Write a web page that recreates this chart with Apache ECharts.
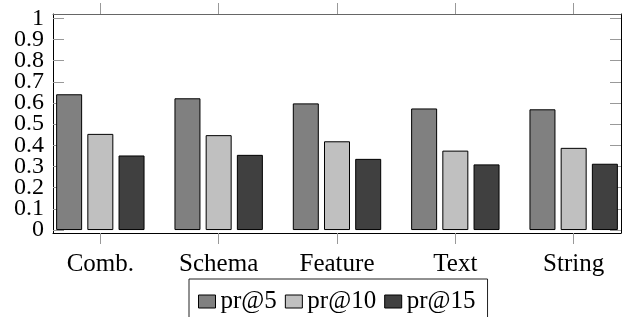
<!DOCTYPE html>
<html>
<head>
<meta charset="utf-8">
<script src="https://cdn.jsdelivr.net/npm/echarts@6/dist/echarts.min.js"></script>
<style>
  html, body { margin: 0; padding: 0; background: #fff; }
  #chart { width: 622px; height: 317px; }
</style>
</head>
<body>
<div id="chart"></div>
<script>
// categories + values
var categories = ['Comb.', 'Schema', 'Feature', 'Text', 'String'];
var pr5  = [0.641, 0.622, 0.598, 0.574, 0.570];
var pr10 = [0.454, 0.448, 0.419, 0.375, 0.388];
var pr15 = [0.352, 0.355, 0.336, 0.310, 0.313];
var yTicks = [0, 0.1, 0.2, 0.3, 0.4, 0.5, 0.6, 0.7, 0.8, 0.9, 1];
var yLabelsEven = [0, 0.2, 0.4, 0.6, 0.8, 1];
var yLabelsOdd = [0.1, 0.3, 0.5, 0.7, 0.9];
var xTicks = [0, 1, 2, 3, 4];

var font = 'Liberation Serif';

function toPoints(vals) {
  return vals.map(function (v, i) { return [i, v]; });
}

function makeSeries(name, vals, color) {
  return {
    name: name,
    type: 'bar',
    data: toPoints(vals),
    barWidth: 26,
    barGap: '20%',
    itemStyle: { color: color, borderColor: '#000', borderWidth: 1 }
  };
}

// y-axis labels are split over two axes so ECharts won't drop the tight ones
function labelAxis(vals) {
  return {
    type: 'value',
    min: -0.014,
    max: 1.02,
    position: 'left',
    axisLine: { show: false, onZero: false },
    axisTick: { show: false },
    axisLabel: {
      customValues: vals,
      showMinLabel: true,
      showMaxLabel: true,
      margin: 9,
      fontFamily: font, fontSize: 24, color: '#000',
      formatter: function (v) { return String(v); }
    },
    splitLine: { show: false }
  };
}

var myChart = echarts.init(document.getElementById('chart'));

var options = {
  animation: false,
  grid: {
    left: 53, right: 1, top: 14, bottom: 84,
    containLabel: false,
    outerBoundsMode: 'none'
  },
  legend: {
    left: 189,
    top: 279,
    borderColor: '#222',
    borderWidth: 1,
    padding: [10, 12, 6, 9],
    itemWidth: 17,
    itemHeight: 13,
    itemGap: 8,
    icon: 'rect',
    itemStyle: { borderColor: '#000', borderWidth: 1 },
    textStyle: { fontFamily: font, fontSize: 25, color: '#000' },
    data: ['pr@5', 'pr@10', 'pr@15']
  },
  xAxis: [
    {
      type: 'value',
      min: -0.4,
      max: 4.4,
      position: 'bottom',
      axisLine: { onZero: false, lineStyle: { color: '#000', width: 1 } },
      axisTick: { show: true, inside: false, length: 11, customValues: xTicks, lineStyle: { color: '#999' } },
      axisLabel: {
        customValues: xTicks,
        margin: 19,
        fontFamily: font, fontSize: 25, color: '#000',
        formatter: function (v) { return categories[Math.round(v)]; }
      },
      splitLine: { show: false }
    },
    {
      type: 'value',
      min: -0.4,
      max: 4.4,
      position: 'top',
      axisLine: { onZero: false, lineStyle: { color: '#666', width: 1 } },
      axisTick: { show: true, inside: false, length: 11, customValues: xTicks, lineStyle: { color: '#999' } },
      axisLabel: { show: false },
      splitLine: { show: false }
    }
  ],
  yAxis: [
    {
      type: 'value',
      min: -0.014,
      max: 1.02,
      position: 'left',
      axisLine: { show: true, onZero: false, lineStyle: { color: '#000', width: 1 } },
      axisTick: { show: true, inside: true, length: 11, customValues: yTicks, lineStyle: { color: '#999' } },
      axisLabel: { show: false },
      splitLine: { show: false }
    },
    {
      type: 'value',
      min: -0.014,
      max: 1.02,
      position: 'right',
      axisLine: { show: true, onZero: false, lineStyle: { color: '#000', width: 1 } },
      axisTick: { show: true, inside: true, length: 11, customValues: yTicks, lineStyle: { color: '#999' } },
      axisLabel: { show: false },
      splitLine: { show: false }
    },
    labelAxis(yLabelsEven),
    labelAxis(yLabelsOdd)
  ],
  series: [
    makeSeries('pr@5', pr5, '#808080'),
    makeSeries('pr@10', pr10, '#c0c0c0'),
    makeSeries('pr@15', pr15, '#404040')
  ]
};

myChart.setOption(options);
</script>
</body>
</html>
